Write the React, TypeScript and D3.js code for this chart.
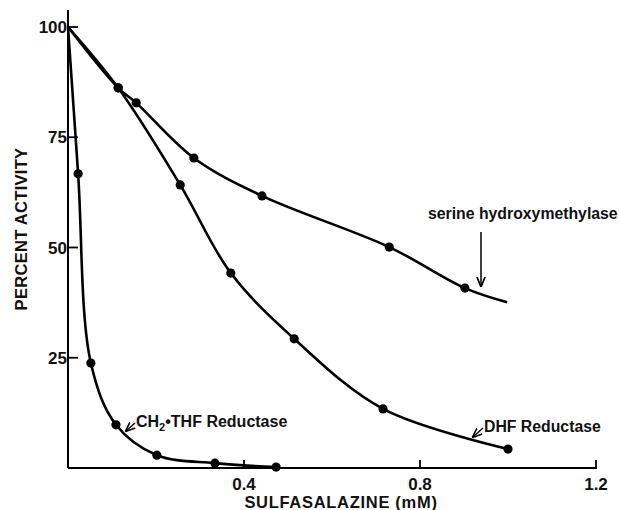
import React from "react";
import * as d3 from "d3";

const serineX = [0, 0.114, 0.155, 0.286, 0.441, 0.730, 0.902, 0.998];
const serineY = [100, 86.2, 82.8, 70.3, 61.7, 50.1, 40.8, 37.6];
const serineMarked = [false, true, true, true, true, true, true, false];

const dhfX = [0, 0.114, 0.255, 0.370, 0.514, 0.716, 1.0];
const dhfY = [100, 86.2, 64.2, 44.2, 29.3, 13.4, 4.3];
const dhfMarked = [false, true, true, true, true, true, true];

const ch2X = [0, 0.023, 0.052, 0.109, 0.202, 0.334, 0.473];
const ch2Y = [100, 66.7, 23.8, 9.8, 2.9, 1.1, 0.2];
const ch2Marked = [false, true, true, true, true, true, true];

const xTicks = [0.4, 0.8, 1.2];
const xTickLabels = ["0.4", "0.8", "1.2"];
const yTicks = [25, 50, 75, 100];

const W = 619;
const H = 510;
const FONT = "'Liberation Sans', Arial, Helvetica, sans-serif";

export default function App() {
  const x = d3.scaleLinear().domain([0, 1.2]).range([68, 596]);
  const y = d3.scaleLinear().domain([0, 100]).range([468, 27]);

  const series = [
    { xs: serineX, ys: serineY, marked: serineMarked },
    { xs: dhfX, ys: dhfY, marked: dhfMarked },
    { xs: ch2X, ys: ch2Y, marked: ch2Marked },
  ];

  const line = d3
    .line<[number, number]>()
    .x((d) => x(d[0]))
    .y((d) => y(d[1]))
    .curve(d3.curveCatmullRom.alpha(0.5));

  return (
    <svg
      width={W}
      height={H}
      style={{ position: "absolute", left: 0, top: 0, background: "#fff" }}
      fontFamily={FONT}
    >
      <defs>
        <marker id="ah" viewBox="0 0 10 10" refX="9" refY="5" markerWidth="7" markerHeight="7" orient="auto-start-reverse">
          <path d="M0,1 L10,5 L0,9" fill="none" stroke="#000" strokeWidth="1.6" />
        </marker>
      </defs>
      {/* axes */}
      <line x1={x(0)} y1={10} x2={x(0)} y2={y(0)} stroke="#000" strokeWidth={2} />
      <line x1={x(0)} y1={y(0)} x2={x(1.2) + 1} y2={y(0)} stroke="#000" strokeWidth={2} />
      {yTicks.map((t) => (
        <g key={t}>
          <line x1={x(0)} x2={x(0) + 10} y1={y(t)} y2={y(t)} stroke="#000" strokeWidth={1.8} />
          <text x={x(0) - 1} y={y(t) + 6} textAnchor="end" fontSize={17} fontWeight={700} fill="#111">
            {t}
          </text>
        </g>
      ))}
      {xTicks.map((t, i) => (
        <g key={t}>
          <line x1={x(t)} x2={x(t)} y1={y(0)} y2={y(0) - 8} stroke="#000" strokeWidth={1.8} />
          <text x={x(t)} y={490} textAnchor="middle" fontSize={17} fontWeight={700} fill="#111">
            {xTickLabels[i]}
          </text>
        </g>
      ))}
      <text x={341} y={508} textAnchor="middle" fontSize={16.5} fontWeight={700} fill="#111" letterSpacing={0.7}>
        SULFASALAZINE (mM)
      </text>
      <text
        transform={`translate(27,229) rotate(-90)`}
        textAnchor="middle"
        fontSize={16.5}
        fontWeight={700}
        fill="#111"
        letterSpacing={0.3}
      >
        PERCENT ACTIVITY
      </text>

      {/* series */}
      {series.map((s, si) => {
        const pts: [number, number][] = s.xs.map((v, i) => [v, s.ys[i]]);
        return (
          <g key={si}>
            <path d={line(pts) || ""} fill="none" stroke="#000" strokeWidth={2.6} />
            {pts.map((p, i) =>
              s.marked[i] ? <circle key={i} cx={x(p[0])} cy={y(p[1])} r={4.6} fill="#000" /> : null
            )}
          </g>
        );
      })}

      {/* annotations */}
      <text x={428} y={219} fontSize={15.8} fontWeight={700} fill="#111">
        serine hydroxymethylase
      </text>
      <line x1={481} y1={232} x2={481} y2={286} stroke="#000" strokeWidth={1.5} markerEnd="url(#ah)" />

      <text x={484} y={432} fontSize={15.8} fontWeight={700} fill="#111">
        DHF Reductase
      </text>
      <line x1={483} y1={428} x2={473} y2={437} stroke="#000" strokeWidth={1.4} markerEnd="url(#ah)" />

      <text x={136} y={427} fontSize={16} fontWeight={700} fill="#111">
        CH
        <tspan fontSize={11} dy={4}>2</tspan>
        <tspan dy={-4}>•THF Reductase</tspan>
      </text>
      <line x1={135} y1={423} x2={126} y2={431} stroke="#000" strokeWidth={1.4} markerEnd="url(#ah)" />
    </svg>
  );
}
